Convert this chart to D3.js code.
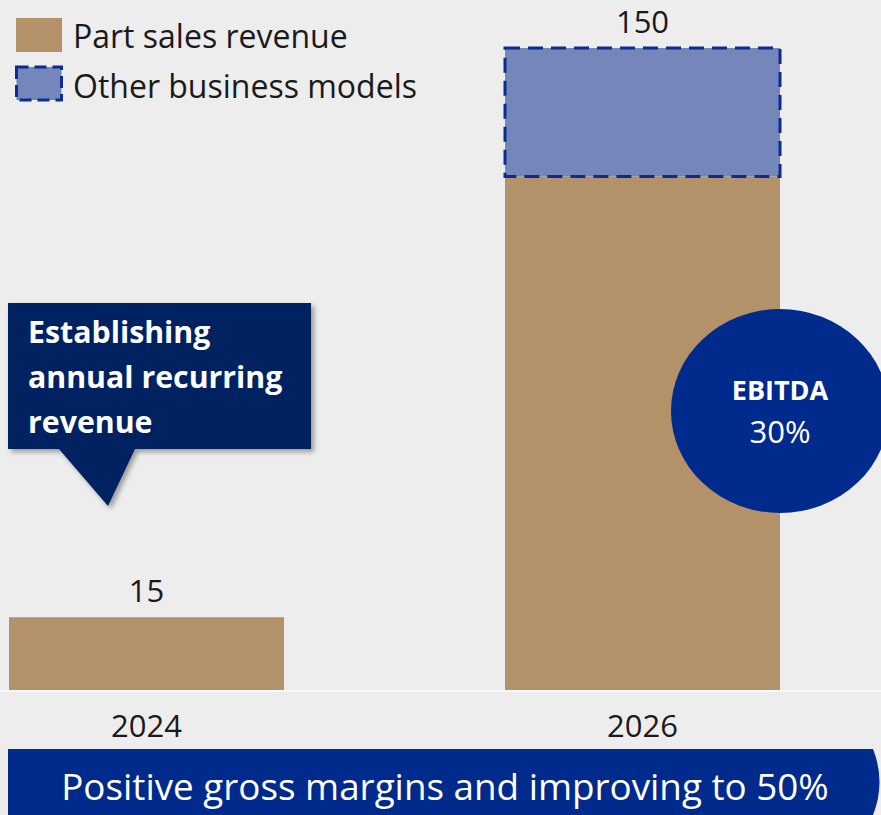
<!DOCTYPE html>
<html><head><meta charset="utf-8">
<script src="https://cdn.jsdelivr.net/npm/d3@7"></script>
<style>html,body{margin:0;padding:0;background:#ededed;}svg{display:block;}</style>
</head><body>
<script>
const categories = ["2024", "2026"];
const partSales = [17, 120];
const otherModels = [0, 30];
const totalLabels = ["15", "150"];
const legendLabels = ["Part sales revenue", "Other business models"];
const calloutLines = ["Establishing", "annual recurring", "revenue"];
const ebitdaLabel = ["EBITDA", "30%"];
const bannerText = "Positive gross margins and improving to 50%";

const W = 881, H = 815;
const FONT = "'Open Sans', 'Noto Sans', sans-serif";
const svg = d3.select("body").append("svg").attr("width", W).attr("height", H);
svg.append("rect").attr("width", W).attr("height", H).attr("fill", "#ededed");

const defs = svg.append("defs");
const f = defs.append("filter").attr("id", "shadow").attr("x", "-10%").attr("y", "-10%").attr("width", "130%").attr("height", "130%");
f.append("feDropShadow").attr("dx", 3).attr("dy", 3).attr("stdDeviation", 2.5).attr("flood-color", "#000").attr("flood-opacity", 0.35);

const x = d3.scaleBand().domain(categories).range([9, 780]).paddingInner(221 / 496).paddingOuter(0);
const y = d3.scaleLinear().domain([0, 150]).range([690, 48]);

// baseline
svg.append("line").attr("x1", 0).attr("x2", W).attr("y1", 691).attr("y2", 691).attr("stroke", "#f8f8f8").attr("stroke-width", 2);

const data = categories.map((c, i) => ({c, p: partSales[i], o: otherModels[i], label: totalLabels[i]}));
svg.selectAll("rect.part").data(data).join("rect").attr("class", "part")
  .attr("x", d => x(d.c)).attr("width", x.bandwidth())
  .attr("y", d => y(d.p)).attr("height", d => y(0) - y(d.p))
  .attr("fill", "#b39169");
svg.selectAll("rect.other").data(data.filter(d => d.o > 0)).join("rect").attr("class", "other")
  .attr("x", d => x(d.c)).attr("width", x.bandwidth())
  .attr("y", d => y(d.p + d.o)).attr("height", d => y(d.p) - y(d.p + d.o))
  .attr("fill", "#7486ba").attr("stroke", "#0b2c91").attr("stroke-width", 3).attr("stroke-dasharray", "15,8");
svg.selectAll("text.total").data(data).join("text").attr("class", "total")
  .attr("x", d => x(d.c) + x.bandwidth() / 2).attr("y", d => y(d.p + d.o) - 15)
  .attr("text-anchor", "middle").attr("font-family", FONT).attr("font-size", 31).attr("fill", "#1a1a1a")
  .text(d => d.label);
svg.selectAll("text.cat").data(categories).join("text").attr("class", "cat")
  .attr("x", d => x(d) + x.bandwidth() / 2).attr("y", 737)
  .attr("text-anchor", "middle").attr("font-family", FONT).attr("font-size", 31).attr("fill", "#1a1a1a")
  .text(d => d);

// legend
const lg = svg.append("g");
lg.append("rect").attr("x", 16).attr("y", 18).attr("width", 46).attr("height", 34).attr("fill", "#b39169");
lg.append("rect").attr("x", 16.5).attr("y", 67).attr("width", 45).attr("height", 33).attr("fill", "#7486ba")
  .attr("stroke", "#0b2c91").attr("stroke-width", 3).attr("stroke-dasharray", "12,6");
legendLabels.forEach((t, i) => {
  lg.append("text").attr("x", 73).attr("y", 48 + i * 50).attr("font-family", FONT).attr("font-size", 32)
    .attr("fill", "#1a1a1a").text(t);
});

// callout
const cg = svg.append("g").attr("filter", "url(#shadow)");
cg.append("path").attr("d", "M8,303 H311 V449 H135 L108,506 L59,449 H8 Z").attr("fill", "#002060");
calloutLines.forEach((t, i) => {
  svg.append("text").attr("x", 28).attr("y", 343 + i * 45).attr("font-family", FONT).attr("font-weight", "bold")
    .attr("font-size", 30.3).attr("fill", "#fff").text(t);
});

// EBITDA ellipse
svg.append("ellipse").attr("cx", 780).attr("cy", 411).attr("rx", 109).attr("ry", 102).attr("fill", "#002a8c");
svg.append("text").attr("x", 780).attr("y", 400).attr("text-anchor", "middle").attr("font-family", FONT)
  .attr("font-weight", "bold").attr("font-size", 27).attr("fill", "#fff").text(ebitdaLabel[0]);
svg.append("text").attr("x", 780).attr("y", 443).attr("text-anchor", "middle").attr("font-family", FONT)
  .attr("font-size", 31).attr("fill", "#fff").text(ebitdaLabel[1]);

// banner
svg.append("path").attr("d", "M8,749 H873 Q886,782 873,815 H8 Z").attr("fill", "#002a8c");
svg.append("text").attr("x", 445).attr("y", 800).attr("text-anchor", "middle").attr("font-family", FONT)
  .attr("font-size", 36.8).attr("fill", "#fff").text(bannerText);
</script>
</body></html>
